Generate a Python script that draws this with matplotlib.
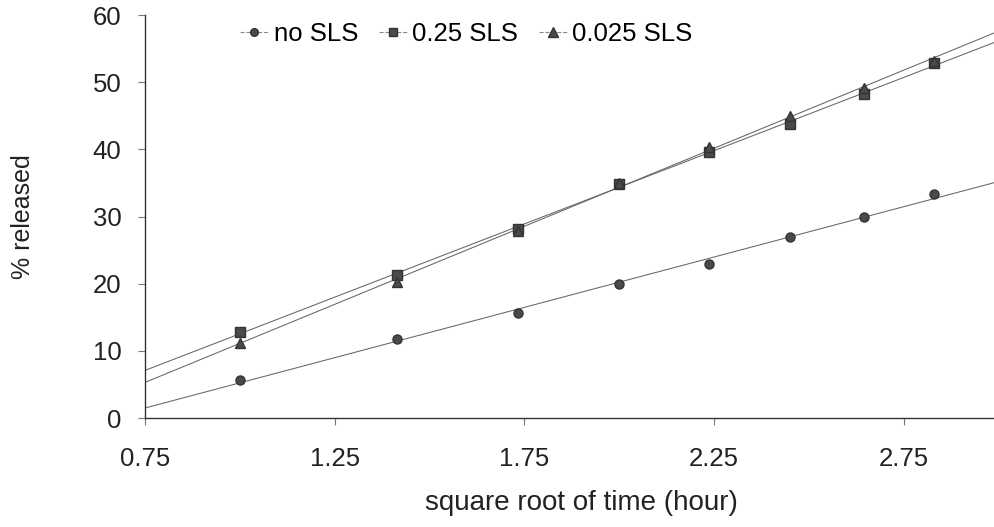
import matplotlib.pyplot as plt
import matplotlib
import numpy as np

matplotlib.rcParams['font.family'] = ['Liberation Sans', 'DejaVu Sans']

# sqrt of sampling time (hours 1..8)
sqrt_time = [1.0, 1.414, 1.732, 2.0, 2.236, 2.449, 2.646, 2.828]
no_sls = [5.6, 11.8, 15.7, 20.0, 23.0, 27.0, 30.0, 33.3]
sls_025 = [12.8, 21.3, 28.2, 34.8, 39.6, 43.8, 48.2, 52.8]
sls_0025 = [11.2, 20.2, 27.9, 35.0, 40.4, 44.9, 49.2, 53.2]
x_ticks = [0.75, 1.25, 1.75, 2.25, 2.75]
y_ticks = [0, 10, 20, 30, 40, 50, 60]

series = [
    ('no SLS', no_sls, 'o', 6.5),
    ('0.25 SLS', sls_025, 's', 7),
    ('0.025 SLS', sls_0025, '^', 7.5),
]

fig = plt.figure(figsize=(9.95, 5.27), dpi=100)
ax = fig.add_axes([0.1457, 0.2068, 0.8543, 0.7647])

xlim = (0.75, 2.99)
x_line = np.array(xlim)
handles = []
for label, ys, marker, ms in series:
    # linear trendline like the spreadsheet one
    slope, icpt = np.polyfit(sqrt_time, ys, 1)
    ax.plot(x_line, slope * x_line + icpt, color='#666666', linewidth=0.75,
            zorder=2)
    ax.plot(sqrt_time, ys, linestyle='none', marker=marker, markersize=ms,
            color='#4a4a4a', markeredgecolor='#333333', zorder=3)
    h, = ax.plot([], [], color='#888888', linewidth=0.8, linestyle='--',
                 marker=marker, markersize=ms - 1, markerfacecolor='#4a4a4a',
                 markeredgecolor='#333333')
    handles.append(h)

ax.set_xlim(*xlim)
ax.set_ylim(0, 60)
ax.set_xticks(x_ticks)
ax.set_xticklabels([f'{t:.2f}' for t in x_ticks])
ax.set_yticks(y_ticks)

for side in ['top', 'right']:
    ax.spines[side].set_visible(False)
for side in ['left', 'bottom']:
    ax.spines[side].set_color('#333333')
    ax.spines[side].set_linewidth(1.0)
ax.tick_params(axis='both', direction='out', length=5, width=0.8,
               color='#777777', labelsize=18.5, labelcolor='#222222')
ax.tick_params(axis='x', pad=16)
ax.tick_params(axis='y', pad=12)

ax.set_xlabel('square root of time (hour)', fontsize=20, color='#222222')
ax.xaxis.set_label_coords(0.514, -0.178)
ax.set_ylabel('% released', fontsize=18, color='#222222')
ax.yaxis.set_label_coords(-0.129, 0.5)

ax.legend(handles, [s[0] for s in series], loc='upper left',
          bbox_to_anchor=(0.085, 1.04), ncol=3, frameon=False, fontsize=18.5,
          handlelength=1.1, handletextpad=0.2, columnspacing=0.8)

fig.savefig('out.png', dpi=100)
